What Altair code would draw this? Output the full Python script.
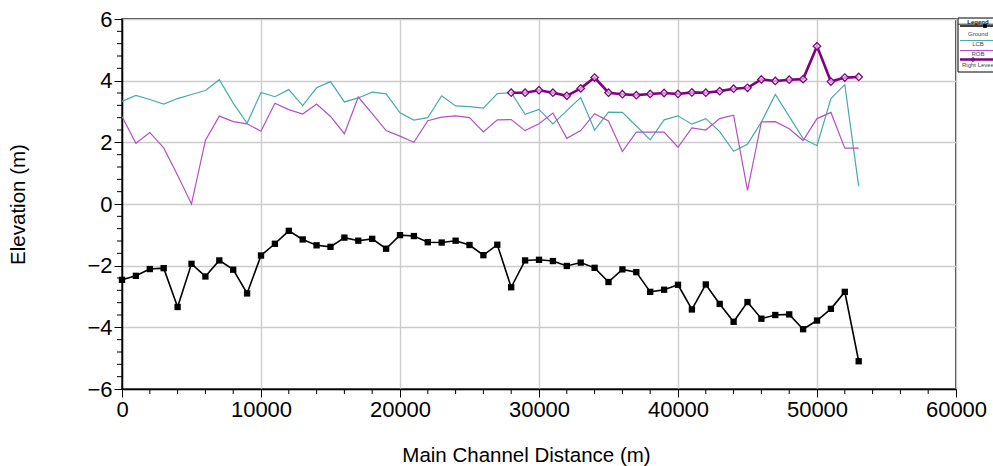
import altair as alt
import pandas as pd

# ---------------- data ----------------
stations = list(range(0, 54000, 1000))
ground = [-2.46, -2.33, -2.11, -2.08, -3.34, -1.94, -2.35, -1.83, -2.13, -2.90,
          -1.67, -1.29, -0.87, -1.15, -1.34, -1.39, -1.09, -1.19, -1.13, -1.45,
          -1.01, -1.04, -1.24, -1.25, -1.19, -1.33, -1.66, -1.32, -2.70, -1.83,
          -1.81, -1.85, -2.01, -1.90, -2.07, -2.53, -2.12, -2.21, -2.85, -2.78,
          -2.62, -3.42, -2.61, -3.24, -3.82, -3.18, -3.72, -3.60, -3.58, -4.06,
          -3.78, -3.40, -2.85, -5.10]
lcb = [3.33, 3.52, 3.39, 3.24, 3.42, 3.55, 3.68, 4.03, 3.27, 2.62,
       3.62, 3.48, 3.71, 3.19, 3.77, 3.97, 3.31, 3.44, 3.63, 3.57,
       2.96, 2.72, 2.80, 3.51, 3.18, 3.16, 3.11, 3.58, 3.61, 2.91,
       3.07, 2.60, 3.03, 3.45, 2.40, 2.98, 2.97, 2.53, 2.08, 2.73,
       2.86, 2.59, 2.77, 2.35, 1.71, 1.94, 2.66, 3.55, 2.84, 2.12,
       1.89, 3.42, 3.87, 0.57]
rob = [2.84, 1.97, 2.32, 1.82, 0.93, 0.00, 2.06, 2.85, 2.67, 2.60,
       2.36, 3.27, 3.06, 2.92, 3.24, 2.84, 2.28, 3.47, 2.93, 2.38,
       2.20, 2.00, 2.70, 2.82, 2.86, 2.80, 2.34, 2.73, 2.74, 2.38,
       2.60, 2.95, 2.13, 2.38, 2.93, 2.69, 1.70, 2.33, 2.33, 2.33,
       1.84, 2.47, 2.40, 2.77, 2.88, 0.44, 2.66, 2.67, 2.44, 2.06,
       2.77, 2.97, 1.81, 1.81]
levee_stations = list(range(28000, 54000, 1000))
levee = [3.61, 3.61, 3.69, 3.61, 3.51, 3.75, 4.10, 3.61, 3.56, 3.53,
         3.57, 3.60, 3.57, 3.62, 3.61, 3.66, 3.74, 3.77, 4.04, 3.99,
         4.03, 4.05, 5.12, 3.97, 4.10, 4.12]
x_major_ticks = list(range(0, 60001, 10000))
x_minor_ticks = [v for v in range(0, 60001, 2000) if v % 10000 != 0]
y_major_ticks = [-6, -4, -2, 0, 2, 4, 6]
y_minor_ticks = [round(-6 + 0.4 * i, 1) for i in range(31) if i % 5 != 0]
legend_names = ["Ground", "LCB", "ROB", "Right Levee"]

df = pd.DataFrame({"station": stations, "Ground": ground, "LCB": lcb, "ROB": rob})
dl = pd.DataFrame({"station": levee_stations, "Right Levee": levee})
dxm = pd.DataFrame({"tick": x_minor_ticks})
dym = pd.DataFrame({"tick": y_minor_ticks})

C_GROUND = "#000000"
C_LCB = "#45abab"
C_ROB = "#b450c4"
C_LEVEE = "#800080"
FONT = "Liberation Sans"

xscale = alt.Scale(domain=[0, 60000], nice=False, zero=False)
yscale = alt.Scale(domain=[-6, 6], nice=False, zero=False)

xaxis = alt.Axis(
    values=x_major_ticks, format="d", title="Main Channel Distance (m)",
    labelFlush=False, labelOverlap=False, tickSize=8,
    labelPadding=2, titlePadding=25, titleX=404,
)
yaxis = alt.Axis(
    values=y_major_ticks, format="d", title="Elevation (m)",
    labelOverlap=False, tickSize=8,
    labelPadding=2, titlePadding=58,
)


def X(field):
    return alt.X(f"{field}:Q", scale=xscale, axis=xaxis)


def Y(field):
    return alt.Y(f"{field}:Q", scale=yscale, axis=yaxis)


base = alt.Chart(df)

lcb_line = base.mark_line(color=C_LCB, strokeWidth=1.2).encode(x=X("station"), y=Y("LCB"))
rob_line = base.mark_line(color=C_ROB, strokeWidth=1.2).encode(x=X("station"), y=Y("ROB"))
levee_line = alt.Chart(dl).mark_line(color=C_LEVEE, strokeWidth=2.6).encode(
    x=X("station"), y=Y("Right Levee"))
levee_pts = alt.Chart(dl).mark_point(
    shape="diamond", size=55, filled=False, color=C_LEVEE, strokeWidth=1.3,
    fill="white", fillOpacity=0.6, opacity=1
).encode(x=X("station"), y=Y("Right Levee"))
ground_line = base.mark_line(color=C_GROUND, strokeWidth=1.6).encode(
    x=X("station"), y=Y("Ground"))
ground_pts = base.mark_square(color=C_GROUND, size=40, opacity=1).encode(
    x=X("station"), y=Y("Ground"))

# minor ticks (placed through the scales)
x_minor = alt.Chart(dxm).mark_rule(color="black", strokeWidth=1).encode(
    x=X("tick"), y=alt.value(370), y2=alt.value(375))
y_minor = alt.Chart(dym).mark_rule(color="black", strokeWidth=1).encode(
    y=Y("tick"), x=alt.value(-5), x2=alt.value(0))

# ---------------- small legend box at the right edge ----------------
LX0, LX1, LXC = 836, 885, 856
leg_layers = []
leg_layers.append(
    alt.Chart(pd.DataFrame({"t": ["Legend"]})).mark_rect(
        fill="white", stroke="black", strokeWidth=1).encode(
        x=alt.value(LX0), x2=alt.value(LX1), y=alt.value(-1), y2=alt.value(53))
)
leg_layers.append(
    alt.Chart(pd.DataFrame({"t": ["Legend"]})).mark_text(
        font=FONT, fontSize=6, fontWeight="bold", color="#222").encode(
        text="t:N", x=alt.value(LXC), y=alt.value(2.5))
)
leg_layers.append(
    alt.Chart(pd.DataFrame({"t": ["Legend"]})).mark_rule(color="black", strokeWidth=0.8).encode(
        x=alt.value(LX0), x2=alt.value(LX1), y=alt.value(5.2))
)
sample_colors = [C_GROUND, C_LCB, C_ROB, C_LEVEE]
sample_widths = [1.6, 1.2, 1.2, 2.4]
line_y = [7, 21.5, 31.5, 40.5]
text_y = [15, 25, 35, 45.5]
for i, name in enumerate(legend_names):
    d = pd.DataFrame({"t": [name]})
    leg_layers.append(
        alt.Chart(d).mark_rule(color=sample_colors[i], strokeWidth=sample_widths[i]).encode(
            x=alt.value(LX0 + 2), x2=alt.value(LX1), y=alt.value(line_y[i]))
    )
    leg_layers.append(
        alt.Chart(d).mark_text(font=FONT, fontSize=6, color="#444").encode(
            text="t:N", x=alt.value(LXC), y=alt.value(text_y[i]))
    )
leg_layers.append(
    alt.Chart(pd.DataFrame({"t": ["Ground"]})).mark_square(
        color="black", fill="black", size=14, opacity=1).encode(
        x=alt.value(863), y=alt.value(7))
)
leg_layers.append(
    alt.Chart(pd.DataFrame({"t": ["Right Levee"]})).mark_point(
        shape="diamond", size=20, filled=False, color=C_LEVEE, strokeWidth=1, opacity=1).encode(
        x=alt.value(851), y=alt.value(40.5))
)

chart = alt.layer(
    lcb_line, rob_line, levee_line, levee_pts, ground_line, ground_pts,
    x_minor, y_minor, *leg_layers
).properties(
    width=834, height=370,
    background="white",
    autosize=alt.AutoSizeParams(type="none"),
    padding={"left": 122, "top": 19, "right": 37, "bottom": 77},
).configure_view(
    stroke="black", strokeWidth=1.5
).configure_axis(
    domainColor="black", domainWidth=1.5, tickColor="black", tickWidth=1,
    labelFont=FONT, labelFontSize=22, labelColor="black",
    titleFont=FONT, titleFontSize=20.5, titleFontWeight="normal", titleColor="black",
    gridColor="#cccccc", gridWidth=1.4,
)

chart.save("out.html", embed_options={"renderer": "svg", "actions": False})
